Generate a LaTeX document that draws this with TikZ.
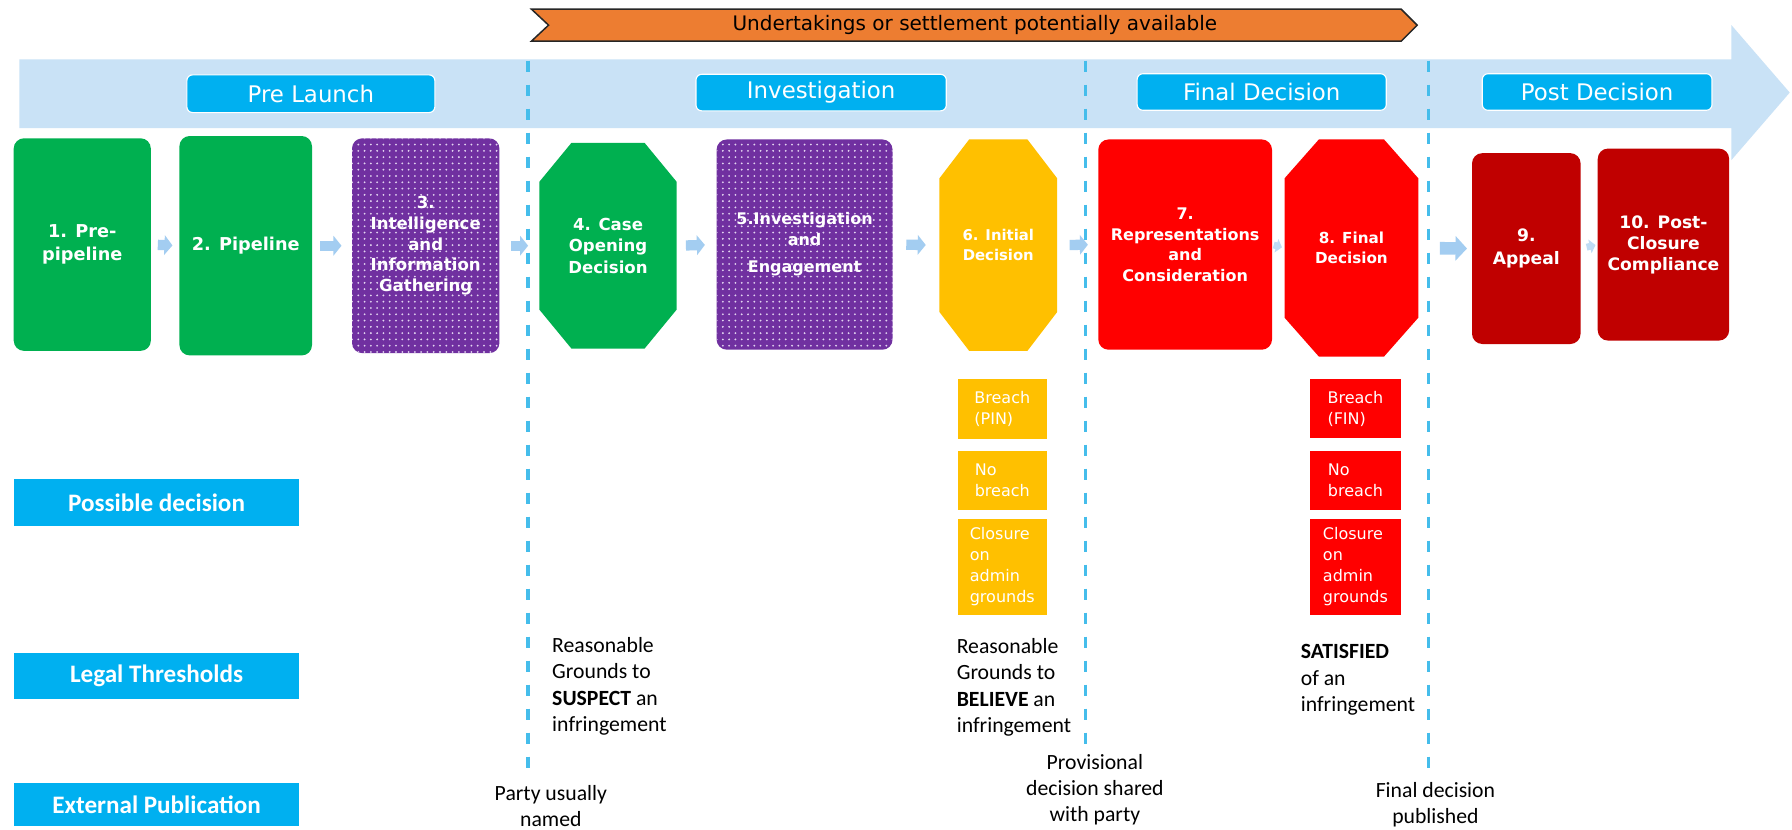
\documentclass[tikz,border=0pt]{standalone}
\usepackage{fontspec}
\setmainfont{DejaVu Sans}
\newfontfamily\cbri{Carlito}
\usetikzlibrary{arrows.meta,patterns.meta,calc}
\definecolor{ggreen}{HTML}{00B050}
\definecolor{vpurple}{HTML}{7030A0}
\definecolor{dotc}{HTML}{E2D4F0}
\definecolor{yel}{HTML}{FFC000}
\definecolor{rred}{HTML}{FF0000}
\definecolor{dred}{HTML}{C00000}
\definecolor{phaseblue}{HTML}{00B0F0}
\definecolor{bandc}{HTML}{C9E2F6}
\definecolor{arrowc}{HTML}{A3CDF1}
\definecolor{dashc}{HTML}{45BDEB}
\definecolor{orng}{HTML}{ED7D31}
\newcommand\octfill[6]{\fill[#5] ({#1+#6},#2) -- ({#3-#6},#2) -- (#3,{#2+34}) -- (#3,{#4-34}) -- ({#3-#6},#4) -- ({#1+#6},#4) -- (#1,{#4-34}) -- (#1,{#2+34}) -- cycle;}
\begin{document}
\begin{tikzpicture}[x=1pt,y=-1pt,
  stepbox/.style={rounded corners=9pt, fill=#1, text=white, align=center, inner sep=0pt},
  dotbox/.style={stepbox=vpurple, postaction={pattern={Dots[distance=5.5pt,radius=0.9pt]}, pattern color=dotc}},
  octtext/.style={text=white, align=center, inner sep=0pt},
  phase/.style={rounded corners=5pt, fill=phaseblue, draw=white, line width=1pt, text=white, inner sep=0pt, font=\fontsize{20}{24}\selectfont},
  rowlab/.style={fill=phaseblue, text=white, inner sep=0pt, minimum width=250pt, font=\cbri\bfseries\fontsize{22}{26}\selectfont},
  dec/.style={fill=#1, text=white, align=left, inner sep=0pt, minimum width=78pt, font=\fontsize{14}{18.5}\selectfont},
  thr/.style={align=left, anchor=west, inner sep=0pt, text=black, font=\cbri\fontsize{19}{23}\selectfont},
  pub/.style={align=center, inner sep=0pt, text=black, font=\cbri\fontsize{19}{22.5}\selectfont},
  flow/.style={draw=arrowc, line width=9pt, -{Triangle[length=7pt,width=17pt]}},
  flowbig/.style={draw=arrowc, line width=11pt, -{Triangle[length=10pt,width=21pt]}},
  flowsmall/.style={draw=arrowc!70, line width=6pt, -{Triangle[length=5pt,width=12pt]}},
  dashln/.style={draw=dashc, line width=3pt, dash pattern=on 10pt off 11pt},
]
\fill[white] (0,0) rectangle (1568,726);
\useasboundingbox (0,0) rectangle (1568,726);

% timeline band
\fill[bandc] (17,52) -- (1515,52) -- (1515,22) -- (1566,81) -- (1515,140) -- (1515,112) -- (17,112) -- cycle;

% banner
\filldraw[fill=orng, draw=black!85, line width=1.3pt] (465,8) -- (1226,8) -- (1240,22) -- (1226,36) -- (465,36) -- (480,22) -- cycle;
\node[inner sep=0pt, font=\fontsize{17.5}{20}\selectfont] (banner) at (853,22) {Undertakings or settlement potentially available};

% phase labels
\node[phase, minimum width=217pt, minimum height=33pt] (ph1) at (272,82) {Pre Launch};
\node[phase, minimum width=219pt, minimum height=32pt] (ph2) at (718.5,81) {Investigation};
\node[phase, minimum width=218pt, minimum height=32pt] (ph3) at (1104,80.5) {Final Decision};
\node[phase, minimum width=201pt, minimum height=32pt] (ph4) at (1397.5,80.5) {Post Decision};

% stage boxes
\node[stepbox=ggreen, minimum width=120pt, minimum height=186pt, font=\bfseries\fontsize{15.5}{20}\selectfont] (b1) at (72,214) {1. Pre-\\pipeline};
\node[stepbox=ggreen, minimum width=116pt, minimum height=192pt, font=\bfseries\fontsize{15.5}{20}\selectfont] (b2) at (215,215) {2. Pipeline};
\node[dotbox, minimum width=129pt, minimum height=188pt, font=\bfseries\fontsize{14.5}{18}\selectfont] (b3) at (372.5,215) {3.\\Intelligence\\and\\Information\\Gathering};
\octfill{472}{125}{592}{305}{ggreen}{28}
\node[octtext, minimum width=120pt, minimum height=180pt, font=\bfseries\fontsize{14.5}{19}\selectfont] (b4) at (532,215) {4. Case\\Opening\\Decision};
\node[dotbox, minimum width=154pt, minimum height=184pt, font=\bfseries\fontsize{14}{18}\selectfont] (b5) at (704,214) {5.Investigation\\and\\[6pt]Engagement};
\octfill{822}{122}{925}{307}{yel}{26}
\node[octtext, minimum width=103pt, minimum height=185pt, font=\bfseries\fontsize{13}{17.5}\selectfont] (b6) at (873.5,214.5) {6. Initial\\Decision};
\node[stepbox=rred, minimum width=152pt, minimum height=184pt, font=\bfseries\fontsize{14}{18}\selectfont] (b7) at (1037,214) {7.\\Representations\\and\\Consideration};
\octfill{1124}{122}{1241}{312}{rred}{30}
\node[octtext, minimum width=117pt, minimum height=190pt, font=\bfseries\fontsize{13.3}{17.5}\selectfont] (b8) at (1182.5,217) {8. Final\\Decision};
\node[stepbox=dred, minimum width=95pt, minimum height=167pt, font=\bfseries\fontsize{15}{20}\selectfont] (b9) at (1335.5,217.5) {9.\\Appeal};
\node[stepbox=dred, minimum width=115pt, minimum height=168pt, font=\bfseries\fontsize{15}{18.5}\selectfont] (b10) at (1455.5,214) {10. Post-\\Closure\\Compliance};

% flow arrows
\draw[flow] ($(b1.east)!.24!(b2.west)$) -- ($(b1.east)!.76!(b2.west)$);
\draw[flow] ($(b2.east)!.2!(b3.west)$) -- ($(b2.east)!.74!(b3.west)$);
\draw[flow] ($(b3.east)!.29!(b4.west)$) -- ($(b3.east)!.72!(b4.west)$);
\draw[flow] ($(b4.east)!.23!(b5.west)$) -- ($(b4.east)!.71!(b5.west)$);
\draw[flow] ($(b5.east)!.29!(b6.west)$) -- ($(b5.east)!.71!(b6.west)$);
\draw[flow] ($(b6.east)!.3!(b7.west)$) -- ($(b6.east)!.75!(b7.west)$);
\draw[flowsmall] ($(b7.east)!.12!(b8.west)$) -- ($(b7.east)!.8!(b8.west)$);
\draw[flowbig] ($(b8.east)!.4!(b9.west)$) -- ($(b8.east)!.91!(b9.west)$);
\draw[flowsmall] ($(b9.east)!.35!(b10.west)$) -- ($(b9.east)!.88!(b10.west)$);

% phase separators
\draw[dashln] (462,53) -- (462,676);
\draw[dashln] (950,53) -- (950,652);
\draw[dashln] (1250,53) -- (1250,672);

% row labels
\node[rowlab, minimum height=41pt] (pd) at (137,440) {Possible decision};
\node[rowlab, minimum height=41pt] (lt) at (137,591.5) {Legal Thresholds};
\node[rowlab, minimum height=38pt] (ep) at (137,704) {External Publication};

% possible decisions
\node[dec=yel, minimum height=52pt] (pin) at (877,358) {Breach\\(PIN)};
\node[dec=yel, minimum height=51pt] (nb1) at (877,420.5) {No\\breach};
\node[dec=yel, minimum height=84pt] (adm1) at (877,496) {Closure\\on\\admin\\grounds};
\node[dec=rred, minimum width=80pt, minimum height=52pt] (fin) at (1186,357.5) {Breach\\(FIN)};
\node[dec=rred, minimum width=80pt, minimum height=51pt] (nb2) at (1186,420.5) {No\\breach};
\node[dec=rred, minimum width=80pt, minimum height=84pt] (adm2) at (1186,496) {Closure\\on\\admin\\grounds};

% legal thresholds
\node[thr] (t1) at (483,600.5) {Reasonable\\Grounds to\\\textbf{SUSPECT} an\\infringement};
\node[thr] (t2) at (837,601.5) {Reasonable\\Grounds to\\\textbf{BELIEVE} an\\infringement};
\node[thr] (t3) at (1138,595) {\textbf{SATISFIED}\\of an\\infringement};

% external publication
\node[pub] (p1) at (482,705) {Party usually\\named};
\node[pub] (p2) at (958,691) {Provisional\\decision shared\\with party};
\node[pub] (p3) at (1256,704) {Final decision\\published};
\end{tikzpicture}
\end{document}
